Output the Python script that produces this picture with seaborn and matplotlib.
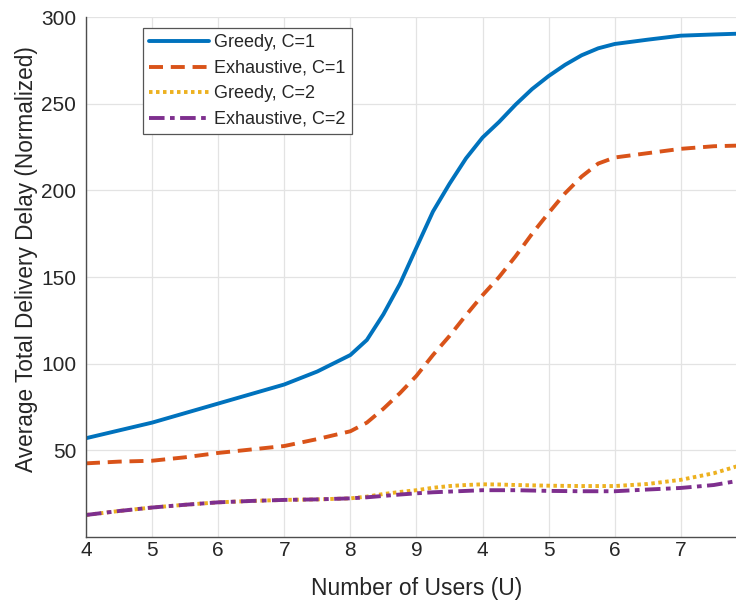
import pandas as pd
import matplotlib.pyplot as plt
import seaborn as sns

# x positions on the axis (ticks read 4..9 then 4..7 again)
users_pos = [4, 4.5, 5, 5.5, 6, 6.5, 7, 7.5, 8, 8.25, 8.5, 8.75, 9, 9.25, 9.5, 9.75,
             10, 10.25, 10.5, 10.75, 11, 11.25, 11.5, 11.75, 12, 12.5, 13, 13.5, 14]
tick_pos = [4, 5, 6, 7, 8, 9, 10, 11, 12, 13]
tick_labels = ['4', '5', '6', '7', '8', '9', '4', '5', '6', '7']

greedy_c1 = [57, 61.5, 66, 71.5, 77, 82.5, 88, 95.5, 105, 113.7, 128.5, 146, 167, 187.8, 203.8, 218.5,
             230.5, 239.5, 249.5, 258.5, 266, 272.5, 278, 282, 284.5, 287, 289.3, 290, 290.6]
exhaustive_c1 = [42.5, 43.5, 44, 46, 48.5, 50.5, 52.5, 56.5, 61, 66, 74, 83, 93, 105, 116, 128,
                 139.5, 150, 162, 175, 187, 198.4, 208, 215.5, 219, 221.5, 224, 225.5, 226]
greedy_c2 = [12.7, 15, 17, 18.6, 20, 20.8, 21.4, 21.7, 22.3, 23.3, 24.8, 26, 27, 28.4, 29.4, 30,
             30.4, 30.3, 30, 29.8, 29.6, 29.5, 29.4, 29.4, 29.4, 30.6, 33, 36.8, 42.5]
exhaustive_c2 = [12.7, 15, 17, 18.6, 20, 20.8, 21.4, 21.7, 22.3, 22.9, 23.7, 24.5, 25.2, 25.8, 26.2, 26.6,
                 27, 27, 27, 26.8, 26.6, 26.5, 26.4, 26.4, 26.4, 27.4, 28.3, 30, 33.3]

methods = ['Greedy, C=1', 'Exhaustive, C=1', 'Greedy, C=2', 'Exhaustive, C=2']
series = [greedy_c1, exhaustive_c1, greedy_c2, exhaustive_c2]
colors = {'Greedy, C=1': '#0072BD', 'Exhaustive, C=1': '#D95319',
          'Greedy, C=2': '#EDB120', 'Exhaustive, C=2': '#7E2F8E'}
dash_map = {'Greedy, C=1': '', 'Exhaustive, C=1': (3.6, 2.0),
            'Greedy, C=2': (0.9, 0.9), 'Exhaustive, C=2': (4.0, 1.4, 1.2, 1.4)}

df = pd.DataFrame({
    'users': users_pos * len(methods),
    'delay': [v for s in series for v in s],
    'method': [m for m in methods for _ in users_pos],
})

sns.set_style('whitegrid')
plt.rcParams['font.family'] = ['Liberation Sans', 'DejaVu Sans']

fig = plt.figure(figsize=(7.36, 6.01), dpi=100)
# axes run past the right edge of the figure, as in the cropped original
ax = fig.add_axes([0.1168, 0.1065, 0.898, 0.865])

sns.lineplot(data=df, x='users', y='delay', hue='method', style='method',
             hue_order=methods, style_order=methods, palette=colors,
             dashes=dash_map, linewidth=2.8, errorbar=None, legend=False, ax=ax)

ax.set_xlim(4, 14)
ax.set_ylim(0, 300)
ax.set_xticks(tick_pos)
ax.set_xticklabels(tick_labels)
ax.set_yticks([50, 100, 150, 200, 250, 300])
ax.tick_params(direction='in', length=5, labelsize=15, colors='#262626')
ax.tick_params(axis='x', pad=3)
ax.tick_params(axis='y', pad=7)
ax.set_xlabel('Number of Users (U)', fontsize=16.5, color='#262626', labelpad=12)
ax.set_ylabel('Average Total Delivery Delay (Normalized)', fontsize=16.3,
              color='#262626')
ax.yaxis.set_label_coords(-0.073, 0.535)
ax.grid(True, color='#e3e3e3', linewidth=0.9)

for side in ['top', 'right']:
    ax.spines[side].set_visible(False)
for side in ['left', 'bottom']:
    ax.spines[side].set_color('#4d4d4d')
    ax.spines[side].set_linewidth(1.0)

leg = ax.legend(ax.lines[:4], methods, loc='upper left',
                bbox_to_anchor=(0.086, 0.979), borderaxespad=0,
                fontsize=13, handlelength=3.3, labelspacing=0.47,
                handletextpad=0.3, borderpad=0.35, fancybox=False,
                framealpha=1, edgecolor='#555555')
leg.get_frame().set_linewidth(0.9)

fig.savefig('out.png', dpi=100)
